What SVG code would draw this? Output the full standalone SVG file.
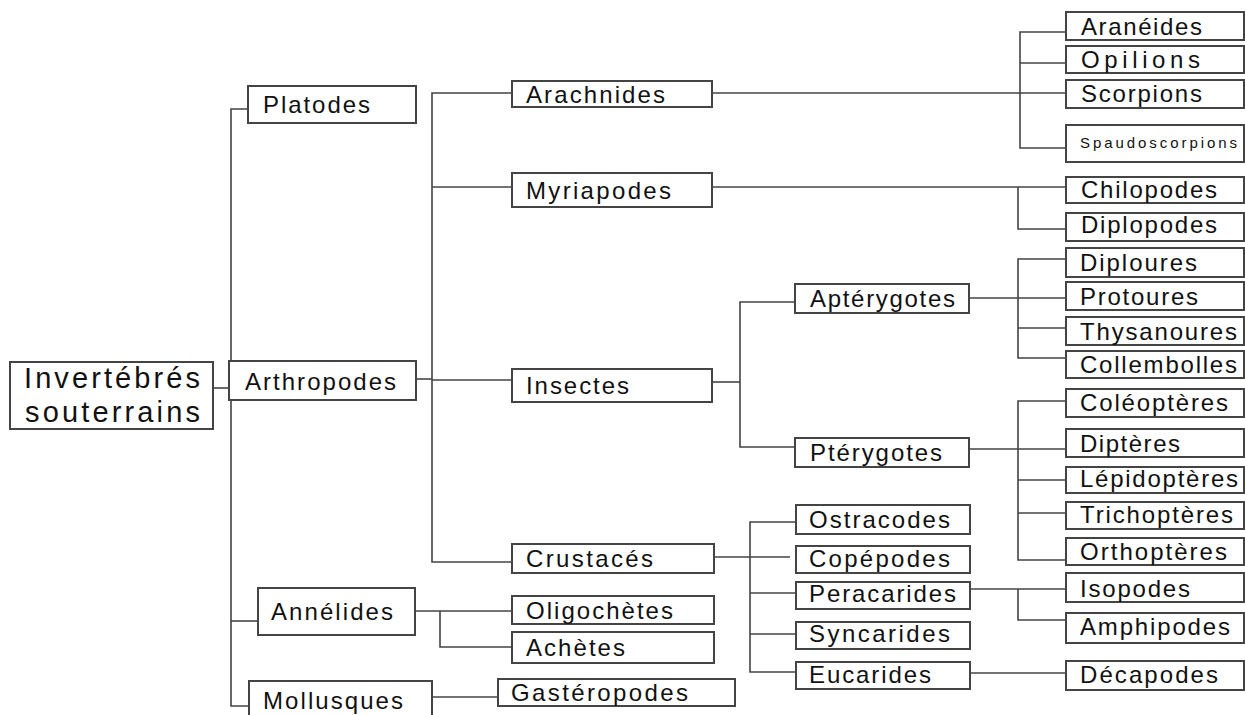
<svg xmlns="http://www.w3.org/2000/svg" width="1245" height="715" viewBox="0 0 1245 715">
<style>
.b{fill:#fff;stroke:#444;stroke-width:2}
.t{font-family:"Liberation Sans",Arial,sans-serif;font-size:24px;fill:#111}
.s{font-size:15px}
.r{font-size:29px}
#connectors path{fill:none;stroke:#444;stroke-width:1.6}
</style>
<rect width="1245" height="715" fill="#fff"/>
<g id="connectors">
<path d="M213,388 H231"/>
<path d="M248,109 H231 V706 H249"/>
<path d="M231,621 H258"/>
<path d="M416,379 H432"/>
<path d="M512,93 H432 V562 H512"/>
<path d="M432,187 H512"/>
<path d="M432,380 H512"/>
<path d="M712,93 H1066"/>
<path d="M1066,32 H1020 V148 H1066"/>
<path d="M1020,63 H1066"/>
<path d="M712,187 H1066"/>
<path d="M1018,187 V229 H1066"/>
<path d="M712,382 H740"/>
<path d="M795,302 H740 V447 H795"/>
<path d="M969,298 H1066"/>
<path d="M1066,259 H1018 V358 H1066"/>
<path d="M1018,328 H1066"/>
<path d="M969,449 H1066"/>
<path d="M1066,401 H1018 V560 H1066"/>
<path d="M1018,480 H1066"/>
<path d="M1018,513 H1066"/>
<path d="M714,557 H790"/>
<path d="M796,522 H750 V672 H796"/>
<path d="M750,593 H796"/>
<path d="M750,634 H796"/>
<path d="M970,589 H1066"/>
<path d="M1018,589 V620 H1066"/>
<path d="M970,673 H1066"/>
<path d="M415,611 H512"/>
<path d="M440,611 V647 H512"/>
<path d="M432,697 H498"/>
</g>
<g id="n-root"><rect class="b" x="10" y="362" width="203" height="67"/><text class="t r" x="24" y="388" textLength="176" lengthAdjust="spacing">Invertébrés</text><text class="t r" x="25" y="422" textLength="175" lengthAdjust="spacing">souterrains</text></g>
<g id="n-platodes"><rect class="b" x="248" y="86" width="168" height="37"/><text class="t" x="263" y="113" textLength="107" lengthAdjust="spacing">Platodes</text></g>
<g id="n-arthropodes"><rect class="b" x="229" y="361" width="187" height="39"/><text class="t" x="245" y="390" textLength="151" lengthAdjust="spacing">Arthropodes</text></g>
<g id="n-annelides"><rect class="b" x="258" y="588" width="157" height="47"/><text class="t" x="271" y="620" textLength="122" lengthAdjust="spacing">Annélides</text></g>
<g id="n-mollusques"><rect class="b" x="249" y="681" width="183" height="40"/><text class="t" x="263" y="709" textLength="140" lengthAdjust="spacing">Mollusques</text></g>
<g id="n-arachnides"><rect class="b" x="512" y="81" width="200" height="26"/><text class="t" x="526" y="103" textLength="139" lengthAdjust="spacing">Arachnides</text></g>
<g id="n-myriapodes"><rect class="b" x="512" y="173" width="200" height="34"/><text class="t" x="526" y="199" textLength="145" lengthAdjust="spacing">Myriapodes</text></g>
<g id="n-insectes"><rect class="b" x="512" y="369" width="200" height="33"/><text class="t" x="526" y="394" textLength="103" lengthAdjust="spacing">Insectes</text></g>
<g id="n-crustaces"><rect class="b" x="512" y="544" width="202" height="29"/><text class="t" x="526" y="567" textLength="127" lengthAdjust="spacing">Crustacés</text></g>
<g id="n-oligochetes"><rect class="b" x="512" y="596" width="202" height="28"/><text class="t" x="526" y="619" textLength="147" lengthAdjust="spacing">Oligochètes</text></g>
<g id="n-achetes"><rect class="b" x="512" y="632" width="202" height="31"/><text class="t" x="526" y="656" textLength="99" lengthAdjust="spacing">Achètes</text></g>
<g id="n-gasteropodes"><rect class="b" x="498" y="679" width="237" height="27"/><text class="t" x="511" y="701" textLength="177" lengthAdjust="spacing">Gastéropodes</text></g>
<g id="n-apterygotes"><rect class="b" x="795" y="284" width="174" height="29"/><text class="t" x="810" y="307" textLength="145" lengthAdjust="spacing">Aptérygotes</text></g>
<g id="n-pterygotes"><rect class="b" x="795" y="438" width="174" height="29"/><text class="t" x="810" y="461" textLength="132" lengthAdjust="spacing">Ptérygotes</text></g>
<g id="n-ostracodes"><rect class="b" x="796" y="505" width="174" height="29"/><text class="t" x="809" y="528" textLength="141" lengthAdjust="spacing">Ostracodes</text></g>
<g id="n-copepodes"><rect class="b" x="796" y="546" width="174" height="27"/><text class="t" x="809" y="567" textLength="141" lengthAdjust="spacing">Copépodes</text></g>
<g id="n-peracarides"><rect class="b" x="796" y="582" width="174" height="27"/><text class="t" x="809" y="602" textLength="147" lengthAdjust="spacing">Peracarides</text></g>
<g id="n-syncarides"><rect class="b" x="796" y="622" width="174" height="27"/><text class="t" x="809" y="642" textLength="141" lengthAdjust="spacing">Syncarides</text></g>
<g id="n-eucarides"><rect class="b" x="796" y="662" width="174" height="27"/><text class="t" x="809" y="683" textLength="122" lengthAdjust="spacing">Eucarides</text></g>
<g id="n-araneides"><rect class="b" x="1066" y="12" width="178" height="28"/><text class="t" x="1081" y="35" textLength="121" lengthAdjust="spacing">Aranéides</text></g>
<g id="n-opilions"><rect class="b" x="1066" y="46" width="178" height="27"/><text class="t" x="1081" y="68" textLength="119" lengthAdjust="spacing">Opilions</text></g>
<g id="n-scorpions"><rect class="b" x="1066" y="80" width="178" height="28"/><text class="t" x="1081" y="102" textLength="121" lengthAdjust="spacing">Scorpions</text></g>
<g id="n-spaudoscorpions"><rect class="b" x="1066" y="125" width="178" height="37"/><text class="t s" x="1080" y="148" textLength="157" lengthAdjust="spacing">Spaudoscorpions</text></g>
<g id="n-chilopodes"><rect class="b" x="1066" y="177" width="178" height="26"/><text class="t" x="1081" y="198" textLength="136" lengthAdjust="spacing">Chilopodes</text></g>
<g id="n-diplopodes"><rect class="b" x="1066" y="213" width="178" height="28"/><text class="t" x="1081" y="233" textLength="136" lengthAdjust="spacing">Diplopodes</text></g>
<g id="n-diploures"><rect class="b" x="1066" y="248" width="178" height="29"/><text class="t" x="1080" y="271" textLength="117" lengthAdjust="spacing">Diploures</text></g>
<g id="n-protoures"><rect class="b" x="1066" y="282" width="178" height="28"/><text class="t" x="1080" y="305" textLength="118" lengthAdjust="spacing">Protoures</text></g>
<g id="n-thysanoures"><rect class="b" x="1066" y="317" width="178" height="28"/><text class="t" x="1080" y="340" textLength="157" lengthAdjust="spacing">Thysanoures</text></g>
<g id="n-collembolles"><rect class="b" x="1066" y="351" width="178" height="27"/><text class="t" x="1080" y="373" textLength="157" lengthAdjust="spacing">Collembolles</text></g>
<g id="n-coleopteres"><rect class="b" x="1066" y="389" width="178" height="28"/><text class="t" x="1080" y="411" textLength="148" lengthAdjust="spacing">Coléoptères</text></g>
<g id="n-dipteres"><rect class="b" x="1066" y="429" width="178" height="28"/><text class="t" x="1080" y="452" textLength="100" lengthAdjust="spacing">Diptères</text></g>
<g id="n-lepidopteres"><rect class="b" x="1066" y="467" width="178" height="26"/><text class="t" x="1080" y="487" textLength="158" lengthAdjust="spacing">Lépidoptères</text></g>
<g id="n-trichopteres"><rect class="b" x="1066" y="502" width="178" height="27"/><text class="t" x="1080" y="523" textLength="153" lengthAdjust="spacing">Trichoptères</text></g>
<g id="n-orthopteres"><rect class="b" x="1066" y="538" width="178" height="27"/><text class="t" x="1080" y="560" textLength="147" lengthAdjust="spacing">Orthoptères</text></g>
<g id="n-isopodes"><rect class="b" x="1066" y="573" width="178" height="29"/><text class="t" x="1080" y="597" textLength="110" lengthAdjust="spacing">Isopodes</text></g>
<g id="n-amphipodes"><rect class="b" x="1066" y="613" width="178" height="30"/><text class="t" x="1080" y="635" textLength="150" lengthAdjust="spacing">Amphipodes</text></g>
<g id="n-decapodes"><rect class="b" x="1066" y="661" width="178" height="29"/><text class="t" x="1080" y="683" textLength="138" lengthAdjust="spacing">Décapodes</text></g>
</svg>
